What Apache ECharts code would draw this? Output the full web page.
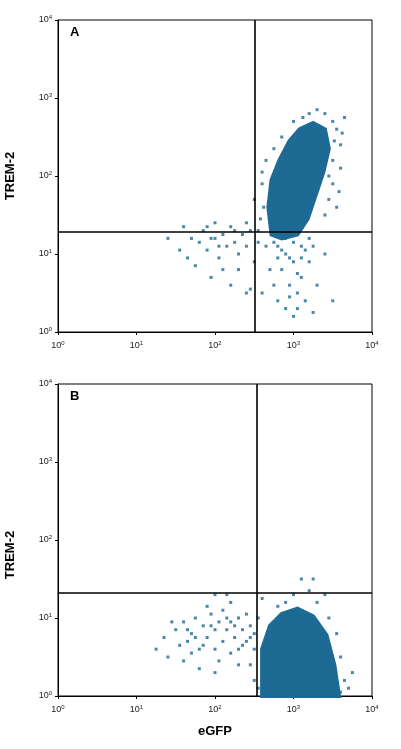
<!DOCTYPE html>
<html><head><meta charset="utf-8">
<script src="https://cdn.jsdelivr.net/npm/echarts@6/dist/echarts.min.js"></script>
<style>html,body{margin:0;padding:0;background:#fff}#c{width:401px;height:749px}</style>
</head><body><div id="c"></div>
<script>
// log10 values
const tickLabels = ['0','1','2','3','4'];
const gateA = [2.51, 1.28];
const gateB = [2.53, 1.33];
const coreA = [[2.72,1.25],[2.68,1.6],[2.72,1.95],[2.82,2.2],[2.95,2.45],[3.08,2.6],[3.25,2.68],[3.4,2.6],[3.45,2.35],[3.38,2.05],[3.28,1.75],[3.18,1.45],[3.05,1.25],[2.85,1.2]];
const sparseA = [[3.4,2.8],[3.5,2.7],[3.55,2.6],[3.52,2.45],[3.6,2.4],[3.3,2.85],[3.2,2.8],[3.5,2.2],[3.45,2.0],[3.5,1.9],[3.55,1.6],[3.4,1.5],[2.65,2.2],[2.6,1.9],[2.62,1.6],[2.5,1.7],[2.55,1.3],[3.65,2.75],[3.6,2.1],[3.58,1.8],[3.45,1.7],[2.75,2.35],[2.85,2.5],[3.0,2.7],[3.12,2.75],[2.6,2.05],[2.58,1.45],[3.62,2.55],
[2.8,1.1],[2.9,1.0],[3.0,0.9],[2.85,0.8],[3.1,0.7],[2.95,0.6],[3.05,0.5],[3.15,0.4],[2.9,0.3],[3.0,0.2],[2.75,0.6],[3.2,0.9],[3.3,0.6],[2.6,0.5],[2.7,0.8],[3.0,1.15],[3.1,1.1],[2.65,1.1],[2.5,0.9],[2.45,0.55],[3.4,1.0],[3.5,0.4],[3.25,0.25],[2.8,0.4],[2.9,1.2],[3.2,1.2],[2.95,0.95],[3.05,0.75],[3.1,0.95],[2.85,1.05],[2.75,1.15],[3.15,1.05],[3.25,1.1],[2.95,0.45],[3.05,0.3],[2.8,0.95],
[1.4,1.2],[1.55,1.05],[1.6,1.35],[1.7,1.2],[1.8,1.15],[1.85,1.3],[1.9,1.05],[2.0,1.2],[2.05,0.95],[2.1,1.25],[2.15,1.1],[2.2,1.35],[2.25,1.15],[2.3,1.0],[2.35,1.25],[2.4,1.1],[2.45,1.3],[1.75,0.85],[1.95,0.7],[2.1,0.8],[1.65,0.95],[2.3,0.8],[2.4,1.4],[2.55,1.15],[2.0,1.4],[1.9,1.35],[2.2,0.6],[2.4,0.5],[1.95,1.2],[2.25,1.3],[2.05,1.1]];
const coreB = [[2.6,0.0],[2.6,0.6],[2.7,0.9],[2.85,1.05],[3.05,1.12],[3.25,1.02],[3.42,0.78],[3.52,0.4],[3.58,0.0]];
const sparseB = [[1.25,0.6],[1.35,0.75],[1.4,0.5],[1.5,0.85],[1.55,0.65],[1.6,0.95],[1.65,0.7],[1.7,0.8],[1.75,1.0],[1.8,0.6],[1.85,0.9],[1.9,0.75],[1.95,1.05],[2.0,0.85],[2.0,0.6],[2.05,0.95],[2.1,0.7],[2.1,1.1],[2.15,0.85],[2.2,0.55],[2.2,0.95],[2.25,0.75],[2.3,1.0],[2.3,0.6],[2.35,0.85],[2.4,0.7],[2.4,1.05],[2.45,0.9],[2.5,0.6],[2.5,0.8],[2.55,1.0],[1.6,0.45],[1.8,0.35],[2.0,0.3],[2.3,0.4],[1.9,1.15],[2.2,1.2],[2.6,1.25],[2.45,0.4],[1.45,0.95],[1.7,0.55],[2.05,0.45],[1.75,0.75],[1.85,0.65],[2.15,1.0],[2.35,0.65],[2.45,0.75],[1.95,0.9],[2.25,0.9],[1.65,0.85],
[3.6,0.5],[3.65,0.2],[3.55,0.8],[3.45,1.0],[3.3,1.2],[3.2,1.35],[3.1,1.5],[3.25,1.5],[2.9,1.2],[3.0,1.3],[2.8,1.15],[3.7,0.1],[2.5,0.2],[2.55,0.1],[3.4,1.3],[2.0,1.3],[2.15,1.3],[3.6,0.05],[3.75,0.3]];

const col = '#1d6a94';
const rich = {b:{fontSize:9,color:'#222',fontFamily:'Liberation Sans'},s:{fontSize:6,color:'#222',verticalAlign:'bottom',padding:[0,0,6,0]}};
const fmt = v => '{b|10}{s|' + tickLabels[Math.round(v)] + '}';
function axes(i){
  return {
    x:{type:'value',gridIndex:i,min:0,max:4,interval:1,axisLine:{lineStyle:{color:'#000'}},axisTick:{length:3,lineStyle:{color:'#000'}},splitLine:{show:false},axisLabel:{formatter:fmt,rich:rich,margin:8}},
    y:{type:'value',gridIndex:i,min:0,max:4,interval:1,axisLine:{lineStyle:{color:'#000'}},axisTick:{length:3,lineStyle:{color:'#000'}},splitLine:{show:false},axisLabel:{formatter:fmt,rich:rich,margin:6}}
  };
}
const a0=axes(0), a1=axes(1);
function poly(data,i){
  return {type:'custom',xAxisIndex:i,yAxisIndex:i,data:[0],
    renderItem:(p,api)=>({type:'polygon',shape:{points:data.map(d=>api.coord(d))},style:{fill:col,stroke:col,lineWidth:4}}),z:2};
}
function pts(data,i){return {type:'scatter',xAxisIndex:i,yAxisIndex:i,data:data,symbol:'rect',symbolSize:3,itemStyle:{color:col},z:3};}
function gate(g,i){return {type:'scatter',xAxisIndex:i,yAxisIndex:i,data:[],z:5,
  markLine:{symbol:'none',silent:true,label:{show:false},lineStyle:{color:'#000',width:1.6,type:'solid'},data:[{xAxis:g[0]},{yAxis:g[1]}]}};}
const chart = echarts.init(document.getElementById('c'));
chart.setOption({
  animation:false,
  grid:[{left:58,top:20,width:314,height:312,show:true,borderColor:'#000',borderWidth:1},
        {left:58,top:384,width:314,height:312,show:true,borderColor:'#000',borderWidth:1}],
  xAxis:[a0.x,a1.x], yAxis:[a0.y,a1.y],
  graphic:[
    {type:'text',left:70,top:26,style:{text:'A',font:'bold 13px Liberation Sans',fill:'#000'}},
    {type:'text',left:70,top:390,style:{text:'B',font:'bold 13px Liberation Sans',fill:'#000'}},
    {type:'text',x:10,y:176,rotation:Math.PI/2,style:{text:'TREM-2',font:'bold 13px Liberation Sans Narrow, Liberation Sans',fill:'#000',align:'center',verticalAlign:'middle'}},
    {type:'text',x:10,y:555,rotation:Math.PI/2,style:{text:'TREM-2',font:'bold 13px Liberation Sans Narrow, Liberation Sans',fill:'#000',align:'center',verticalAlign:'middle'}},
    {type:'text',x:215,y:731,style:{text:'eGFP',font:'bold 13px Liberation Sans Narrow, Liberation Sans',fill:'#000',align:'center',verticalAlign:'middle'}}
  ],
  series:[poly(coreA,0),pts(sparseA,0),gate(gateA,0),poly(coreB,1),pts(sparseB,1),gate(gateB,1)]
});
</script></body></html>
